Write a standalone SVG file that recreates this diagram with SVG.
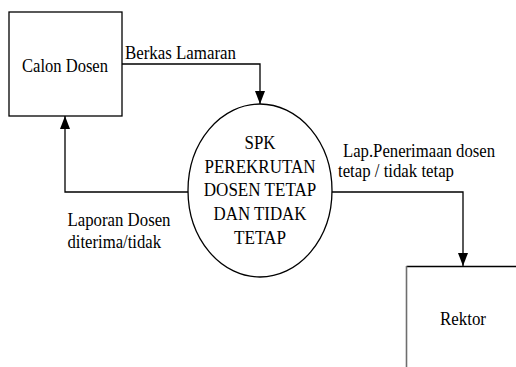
<svg xmlns="http://www.w3.org/2000/svg" width="516" height="367" viewBox="0 0 516 367">
  <style>
    text { font-family: "Liberation Serif", "Times New Roman", Times, serif; font-size: 18.5px; fill: #000; }
    .box { fill: #fff; stroke: #000; stroke-width: 1.3; }
    .conn { fill: none; stroke: #000; stroke-width: 1.3; }
  </style>
  <defs>
    <marker id="arr" viewBox="0 0 13 10" refX="13" refY="5" markerWidth="13" markerHeight="10" markerUnits="userSpaceOnUse" orient="auto">
      <path d="M0,0 L13,5 L0,10 z" fill="#000"/>
    </marker>
  </defs>
  <rect width="516" height="367" fill="#fff"/>

  <g id="connectors">
    <path class="conn" d="M122,64 H260 V104" marker-end="url(#arr)"/>
    <path class="conn" d="M188,192 H65 V116" marker-end="url(#arr)"/>
    <path class="conn" d="M332,192 H463 V266" marker-end="url(#arr)"/>
    <text x="125" y="59" textLength="111" lengthAdjust="spacingAndGlyphs">Berkas Lamaran</text>
    <text x="67.5" y="226" textLength="103" lengthAdjust="spacingAndGlyphs">Laporan Dosen</text>
    <text x="67.5" y="248" textLength="93.5" lengthAdjust="spacingAndGlyphs">diterima/tidak</text>
    <text x="343" y="157" textLength="152" lengthAdjust="spacingAndGlyphs">Lap.Penerimaan dosen</text>
    <text x="338" y="177" textLength="116" lengthAdjust="spacingAndGlyphs">tetap / tidak tetap</text>
  </g>

  <g id="calon-dosen">
    <rect class="box" x="9" y="12" width="113" height="104"/>
    <text x="65" y="71.5" text-anchor="middle" textLength="86" lengthAdjust="spacingAndGlyphs">Calon Dosen</text>
  </g>

  <g id="spk">
    <ellipse class="box" cx="260" cy="190.5" rx="72" ry="86.5"/>
    <text x="260" y="149" text-anchor="middle" textLength="31" lengthAdjust="spacingAndGlyphs">SPK</text>
    <text x="260" y="172.5" text-anchor="middle" textLength="111" lengthAdjust="spacingAndGlyphs">PEREKRUTAN</text>
    <text x="260" y="196" text-anchor="middle" textLength="112.5" lengthAdjust="spacingAndGlyphs">DOSEN TETAP</text>
    <text x="260" y="220" text-anchor="middle" textLength="93" lengthAdjust="spacingAndGlyphs">DAN TIDAK</text>
    <text x="260" y="244" text-anchor="middle" textLength="52" lengthAdjust="spacingAndGlyphs">TETAP</text>
  </g>

  <g id="rektor">
    <path d="M406.5,266.5 H516" fill="none" stroke="#000" stroke-width="1.3"/>
    <path d="M406.5,266 V367" fill="none" stroke="#6e6e6e" stroke-width="1.6"/>
    <text x="463" y="325" text-anchor="middle" textLength="46" lengthAdjust="spacingAndGlyphs">Rektor</text>
  </g>
</svg>
